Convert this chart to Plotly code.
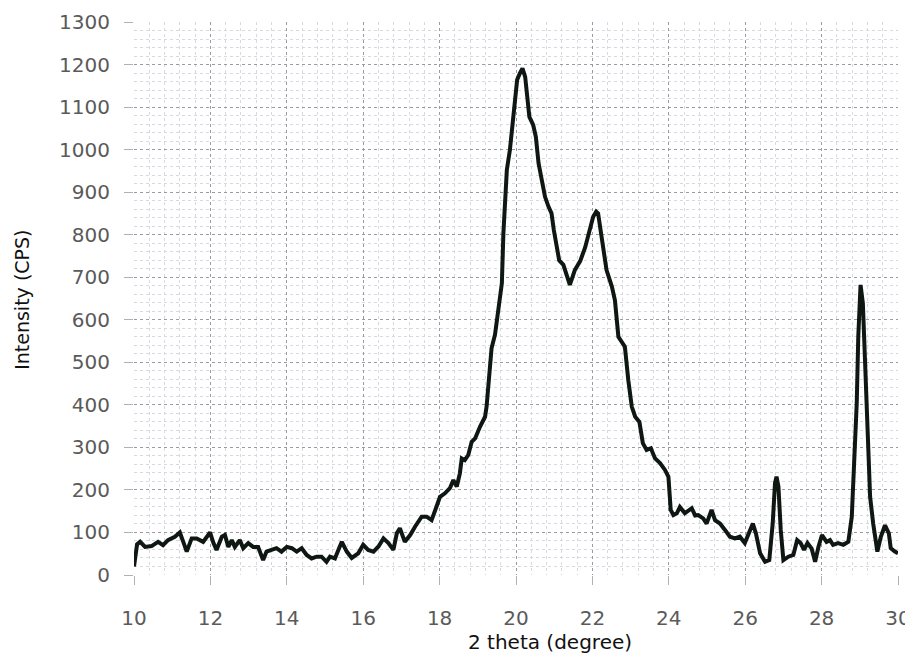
import plotly.graph_objects as go

two_theta = [10.00, 10.08, 10.16, 10.29, 10.46, 10.63, 10.76, 10.89, 11.07, 11.20, 11.29, 11.38,
             11.51, 11.64, 11.81, 11.99, 12.08, 12.16, 12.30, 12.38, 12.47, 12.56, 12.64, 12.77,
             12.86, 12.99, 13.12, 13.25, 13.38, 13.47, 13.60, 13.73, 13.86, 14.00, 14.13, 14.26,
             14.39, 14.52, 14.65, 14.78, 14.91, 15.04, 15.13, 15.26, 15.35, 15.44, 15.57, 15.70,
             15.87, 16.00, 16.13, 16.27, 16.40, 16.53, 16.66, 16.79, 16.88, 16.96, 17.09, 17.23,
             17.36, 17.53, 17.66, 17.79, 17.92, 18.01, 18.14, 18.27, 18.36, 18.45, 18.53, 18.58,
             18.66, 18.75, 18.84, 18.93, 19.06, 19.19, 19.23, 19.28, 19.36, 19.45, 19.54, 19.63,
             19.67, 19.71, 19.76, 19.84, 19.93, 19.97, 20.03, 20.10, 20.17, 20.24, 20.30, 20.35,
             20.45, 20.52, 20.59, 20.67, 20.76, 20.85, 20.93, 20.99, 21.07, 21.13, 21.24, 21.34,
             21.41, 21.54, 21.68, 21.81, 21.89, 22.02, 22.10, 22.15, 22.24, 22.37, 22.51, 22.59,
             22.68, 22.77, 22.85, 22.94, 23.03, 23.12, 23.23, 23.32, 23.42, 23.53, 23.64, 23.77,
             23.90, 23.99, 24.05, 24.12, 24.21, 24.29, 24.42, 24.60, 24.69, 24.77, 24.90, 24.99,
             25.12, 25.21, 25.34, 25.47, 25.60, 25.73, 25.86, 25.99, 26.13, 26.20, 26.28, 26.39,
             26.52, 26.63, 26.72, 26.78, 26.82, 26.87, 26.93, 27.00, 27.13, 27.26, 27.36, 27.45,
             27.54, 27.63, 27.74, 27.83, 27.92, 28.01, 28.13, 28.22, 28.30, 28.43, 28.57, 28.70,
             28.79, 28.85, 28.92, 28.96, 29.02, 29.08, 29.14, 29.20, 29.27, 29.35, 29.46, 29.55,
             29.66, 29.76, 29.81, 29.92, 30.00]

intensity = [20, 72, 78, 66, 68, 78, 70, 82, 90, 100, 78, 55,
             86, 86, 78, 100, 75, 59, 90, 94, 66, 82, 66, 82,
             63, 75, 66, 66, 35, 55, 59, 63, 55, 66, 63, 55,
             63, 47, 39, 43, 43, 31, 43, 39, 59, 78, 55, 40,
             51, 71, 59, 55, 67, 86, 75, 59, 98, 110, 78, 94,
             114, 137, 137, 129, 161, 184, 192, 204, 223, 208, 239, 274,
             270, 282, 313, 321, 349, 372, 396, 458, 533, 565, 623, 686,
             803, 881, 952, 999, 1077, 1117, 1164, 1179, 1191, 1171, 1124, 1077,
             1058, 1030, 968, 929, 889, 866, 850, 811, 772, 740, 729, 701,
             682, 717, 738, 770, 801, 842, 854, 850, 795, 717, 678, 646,
             560, 548, 537, 458, 396, 372, 360, 310, 294, 298, 274, 263,
             247, 231, 153, 141, 145, 160, 145, 157, 140, 141, 133, 121,
             153, 129, 121, 106, 90, 86, 90, 75, 106, 121, 98, 51,
             31, 35, 121, 216, 231, 208, 106, 35, 43, 47, 82, 75,
             59, 75, 62, 31, 67, 94, 78, 82, 71, 75, 71, 78,
             137, 247, 404, 560, 682, 639, 482, 325, 184, 121, 55, 90,
             117, 98, 63, 55, 51]

x_ticks = [10, 12, 14, 16, 18, 20, 22, 24, 26, 28, 30]
y_ticks = list(range(0, 1301, 100))

fig = go.Figure()
fig.add_trace(go.Scatter(x=two_theta, y=intensity, mode="lines",
                         line=dict(color="#0f1712", width=4), showlegend=False))

tick_font = dict(family="DejaVu Sans", size=20, color="#5a5a5a")
fig.update_layout(
    width=905, height=650,
    margin=dict(l=126, r=15, t=14, b=83),
    paper_bgcolor="white", plot_bgcolor="white",
    xaxis=dict(range=[10, 30], tickvals=x_ticks, ticktext=[str(v) for v in x_ticks],
               automargin=False,
               showgrid=True, gridcolor="#9a9aa6", griddash="dot", gridwidth=1,
               minor=dict(dtick=0.4, showgrid=True, gridcolor="#d8d9e0", griddash="dot"),
               ticks="outside", ticklen=9, tickcolor="#b0b0b8",
               ticklabelstandoff=16, tickfont=tick_font,
               zeroline=False, showline=False),
    yaxis=dict(range=[0, 1300], tickvals=y_ticks, ticktext=[str(v) for v in y_ticks],
               automargin=False,
               showgrid=True, gridcolor="#9a9aa6", griddash="dot", gridwidth=1,
               minor=dict(dtick=20, showgrid=True, gridcolor="#d8d9e0", griddash="dot"),
               ticks="outside", ticklen=9, tickcolor="#b0b0b8",
               ticklabelstandoff=10, tickfont=tick_font,
               zeroline=False, showline=False),
    annotations=[
        dict(text="2 theta (degree)", xref="paper", yref="paper", x=0.5445, y=-0.121,
             xanchor="center", yanchor="middle", showarrow=False,
             font=dict(family="DejaVu Sans", size=20, color="#111111")),
        dict(text="Intensity (CPS)", xref="paper", yref="paper", x=-0.147, y=0.497,
             xanchor="center", yanchor="middle", showarrow=False, textangle=-90,
             font=dict(family="DejaVu Sans", size=19, color="#111111")),
    ],
)

fig.write_html("out.html")
